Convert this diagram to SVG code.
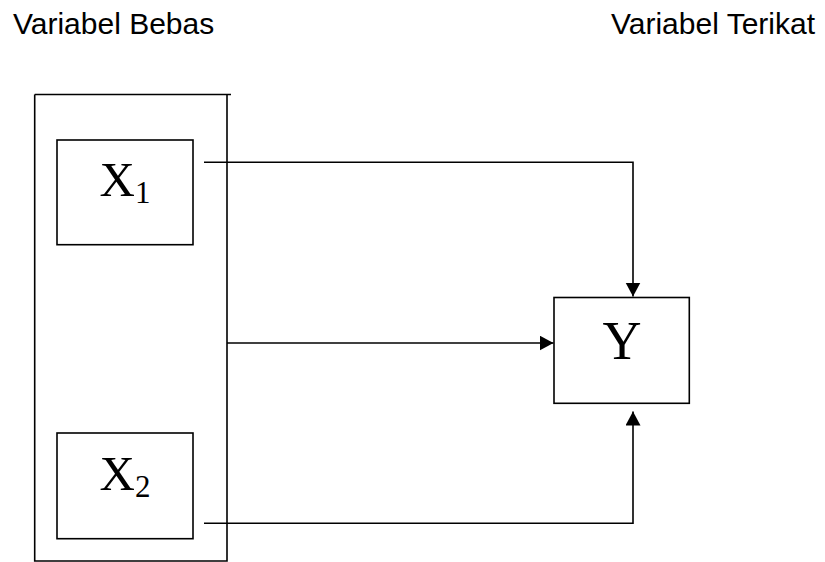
<svg xmlns="http://www.w3.org/2000/svg" width="825" height="562" viewBox="0 0 825 562">
<style>
.ln{fill:none;stroke:#000;stroke-width:1.6}
.lbl{font-family:"Liberation Sans",Arial,sans-serif;font-size:30px;fill:#000}
.var{font-family:"Liberation Serif","Times New Roman",serif;fill:#000}
</style>
<defs>
<marker id="ah" markerUnits="userSpaceOnUse" markerWidth="15" markerHeight="16" refX="14" refY="7.5" orient="auto">
<path d="M0,0 L14,7.5 L0,15 Z" fill="#000"/>
</marker>
</defs>
<rect width="825" height="562" fill="#fff"/>
<text class="lbl" x="13" y="34">Variabel Bebas</text>
<text class="lbl" x="611" y="34">Variabel Terikat</text>
<g id="group-bebas">
<path class="ln" d="M34.7,94.5 H231 M34.7,94.5 V561 H227 V94.5"/>
</g>
<g id="node-x1">
<rect class="ln" x="57" y="140" width="136" height="104.7"/>
<text class="var" x="99.5" y="196" font-size="49">X<tspan font-size="31" dy="7">1</tspan></text>
</g>
<g id="node-x2">
<rect class="ln" x="57" y="433" width="136" height="105.7"/>
<text class="var" x="99.5" y="490" font-size="49">X<tspan font-size="31" dy="7">2</tspan></text>
</g>
<g id="node-y">
<rect class="ln" x="554" y="297.5" width="135.3" height="105.8"/>
<text class="var" x="622" y="359" font-size="54" text-anchor="middle">Y</text>
</g>
<g id="connectors">
<path class="ln" d="M204,162.3 H633 V296.5" marker-end="url(#ah)"/>
<path class="ln" d="M227,343 H553.5" marker-end="url(#ah)"/>
<path class="ln" d="M204,523.3 H633 V411.5" marker-end="url(#ah)"/>
</g>
</svg>
